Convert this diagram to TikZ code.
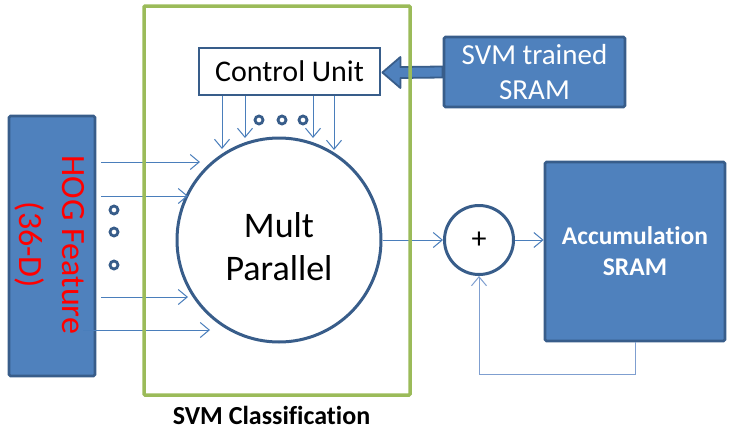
\documentclass[tikz,border=0pt]{standalone}
\usepackage{fontspec}
\setmainfont{Carlito}[Ligatures={NoCommon}]
\usetikzlibrary{arrows.meta,calc}
\definecolor{bfill}{HTML}{4F81BD}
\definecolor{bdraw}{HTML}{385D8A}
\definecolor{gline}{HTML}{9BBB59}
\definecolor{thinc}{HTML}{4A7EBB}
\definecolor{fbc}{HTML}{7F9FD0}
\begin{document}
\begin{tikzpicture}[x=1pt,y=-1pt,
  thinarrow/.style={draw=thinc, line width=1pt, -{Straight Barb[length=9pt,width=15pt,line width=1pt]}},
  bluebox/.style={draw=bdraw, fill=bfill, line width=2.8pt, rounded corners=1.5pt, inner sep=0pt},
  whitebox/.style={draw=bdraw, fill=white, line width=2.8pt, inner sep=0pt},
  ring/.style={circle, draw=bdraw, fill=white, line width=3pt, inner sep=0pt},
  dotc/.style={circle, draw=bdraw, fill=white, line width=2.8pt, minimum size=8pt, inner sep=0pt}]
\useasboundingbox (0,0) rectangle (732,434);

% HOG feature block
\node[bluebox, minimum width=86pt, minimum height=260pt] (hog) at (52,246) {};
\node[rotate=-90, text=red, align=center, font=\fontsize{34}{43}\selectfont] (hogt) at (50,245) {HOG Feature\\(36-D)};

% Control unit and SVM trained SRAM
\node[whitebox, minimum width=181pt, minimum height=47pt, font=\fontsize{30}{34}\selectfont] (cu) at (289.5,71.5) {Control Unit};
\node[bluebox, minimum width=181pt, minimum height=70pt, text=white, align=center, font=\fontsize{29}{35}\selectfont] (svm) at (534.5,72) {SVM trained\\SRAM};

% block arrow SVM -> control unit
\draw[fill=bfill, draw=bdraw, line width=1.8pt, line join=round]
  ($(svm.west)+(0,-5.5)$) -- ($(cu.east)+(19,-4.5)$) -- ($(cu.east)+(19,-14.5)$) -- ($(cu.east)+(1,1)$)
  -- ($(cu.east)+(19,16.5)$) -- ($(cu.east)+(19,6.5)$) -- ($(svm.west)+(0,5.5)$) -- cycle;

% Mult parallel circle
\node[ring, minimum size=204pt] (mult) at (279,240) {};
\node[align=center, font=\fontsize{36}{43}\selectfont] (multt) at (279,247) {Mult\\Parallel};

% adder and accumulation
\node[ring, minimum size=69pt, font=\fontsize{30}{34}\selectfont] (plus) at (479,240) {+};
\node[bluebox, minimum width=180pt, minimum height=179pt, text=white, align=center, font=\bfseries\fontsize{25.5}{31}\selectfont] (acc) at (635,251.5) {Accumulation\\SRAM};

% left inputs
\coordinate (i1) at (200,162);
\coordinate (i2) at (188,196);
\coordinate (i3) at (188,297);
\coordinate (i4) at (210,330);
\draw[thinarrow] ([xshift=5pt]hog.east |- i1) -- (i1);
\draw[thinarrow] ([xshift=5pt]hog.east |- i2) -- (i2);
\draw[thinarrow] ([xshift=5pt]hog.east |- i3) -- (i3);
\draw[thinarrow] ([xshift=-13pt]hog.east |- i4) -- (i4);
\node[dotc] (ld1) at (114,210) {};
\node[dotc] (ld2) at (114,232) {};
\node[dotc] (ld3) at (114,265) {};

% control unit outputs
\coordinate (t1) at (222,149);
\coordinate (t2) at (245,138);
\coordinate (t3) at (313,138);
\coordinate (t4) at (334,150);
\draw[thinarrow] (cu.south -| t1) -- (t1);
\draw[thinarrow] (cu.south -| t2) -- (t2);
\draw[thinarrow] (cu.south -| t3) -- (t3);
\draw[thinarrow] (cu.south -| t4) -- (t4);
\node[dotc] (td1) at (259,120) {};
\node[dotc] (td2) at (282,120) {};
\node[dotc] (td3) at (303,120) {};

% data path
\draw[thinarrow] (mult.east) -- (plus.west);
\draw[thinarrow] (plus.east) -- (plus.east -| acc.west);
\draw[thinarrow, draw=fbc] (acc.south) -- ++(0,32) -| (plus.south);

% SVM classification frame
\node[draw=gline, line width=3.5pt, rounded corners=1pt, minimum width=266pt, minimum height=389pt, inner sep=0pt] (cls) at (277,200.5) {};
\node[font=\bfseries\fontsize{26}{30}\selectfont] (clsl) at (271.5,415) {SVM Classification};
\end{tikzpicture}
\end{document}
